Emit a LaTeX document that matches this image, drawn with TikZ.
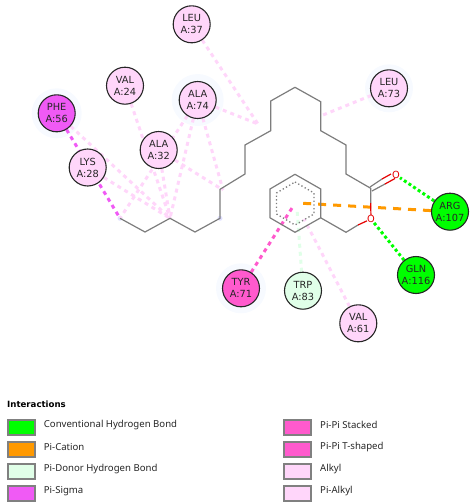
\documentclass[tikz,border=0pt]{standalone}
\usepackage{fontspec}
\setmainfont{DejaVu Sans}
\newfontfamily\legendfont{Noto Sans}
\usetikzlibrary{arrows.meta,backgrounds}
\definecolor{hbond}{RGB}{0,255,0}
\definecolor{picat}{RGB}{255,153,0}
\definecolor{pidonor}{RGB}{224,255,232}
\definecolor{pisig}{RGB}{240,90,245}
\definecolor{pipi}{RGB}{255,90,205}
\definecolor{alkyl}{RGB}{255,214,250}
\definecolor{halo}{RGB}{247,250,255}
\definecolor{bondgray}{RGB}{125,125,125}
\tikzset{
  residue/.style={circle,draw=black!85,line width=1.1pt,minimum size=37pt,inner sep=0pt,align=center,font=\fontsize{9.8}{12}\selectfont,text=black!85},
  bond/.style={draw=bondgray,line width=1.2pt},
  redbond/.style={draw=red!90!black,line width=1.2pt},
  hb/.style={draw=hbond,line width=3pt,dash pattern=on 3pt off 2.6pt},
  cat/.style={draw=picat,line width=3pt,dash pattern=on 8pt off 7pt},
  don/.style={draw=pidonor,line width=3pt,dash pattern=on 4pt off 4pt},
  sig/.style={draw=pisig,line width=3pt,dash pattern=on 4pt off 4pt},
  tsh/.style={draw=pipi,line width=3pt,dash pattern=on 4pt off 4pt},
  alk/.style={draw=alkyl,line width=3pt,dash pattern=on 4pt off 4pt},
  swatch/.style={draw=black!50,line width=1.6pt,minimum width=27pt,minimum height=15pt,inner sep=0pt,anchor=north west},
  legtext/.style={anchor=west,inner sep=0pt,font=\legendfont\fontsize{9.6}{11}\selectfont,text=black!85}
}
\begin{document}
\begin{tikzpicture}[x=1pt,y=-1pt]
\useasboundingbox (0,0) rectangle (475,504);
\coordinate (c1) at (120,218.3);
\coordinate (c2) at (145,232);
\coordinate (c3) at (170,218.3);
\coordinate (c4) at (195,232);
\coordinate (c5) at (220,218.3);
\coordinate (c6) at (220,189.3);
\coordinate (c7) at (245,174);
\coordinate (c8) at (245,145);
\coordinate (c9) at (270.7,130.7);
\coordinate (c10) at (270.7,101);
\coordinate (c11) at (295,87.3);
\coordinate (c12) at (320.7,101.7);
\coordinate (c13) at (320.7,130.7);
\coordinate (c14) at (346,145);
\coordinate (c15) at (346,174);
\coordinate (c16) at (370.7,188.3);
\coordinate (c17) at (346,232.3);
\coordinate (r1) at (295,174.3);
\coordinate (r2) at (320.7,189);
\coordinate (r3) at (320.7,217.8);
\coordinate (r4) at (295,232.3);
\coordinate (r5) at (270,217.8);
\coordinate (r6) at (270,189);
\coordinate (tipcat) at (303,203.3);
\coordinate (tiptyr) at (292,208);
\coordinate (tiptrp) at (297,209);
\coordinate (tipval) at (304,219);
\coordinate (tip9) at (258,124);
\coordinate (tip6) at (223,190);
\coordinate (tip13) at (323,115);
\coordinate (upa) at (370,187);
\coordinate (upb) at (382,179);
\coordinate (upc) at (391,174);
\coordinate (loa) at (372,191);
\coordinate (lob) at (385,184);
\coordinate (loc) at (395,178.5);
\coordinate (o2mid) at (370.7,203);
\coordinate (o2b) at (358,225);
\node[text=red!90!black,inner sep=0pt,font=\fontsize{9.8}{10}\selectfont] (o1) at (396,175) {O};
\node[text=red!90!black,inner sep=0pt,font=\fontsize{9.8}{10}\selectfont] (o2) at (371,219) {O};
\node[residue,fill=alkyl] (leu37) at (191.7,24.3) {LEU\\A:37};
\node[residue,fill=alkyl] (val24) at (125,85.7) {VAL\\A:24};
\node[residue,fill=alkyl] (ala74) at (197.7,100) {ALA\\A:74};
\node[residue,fill=alkyl] (ala32) at (158.7,150) {ALA\\A:32};
\node[residue,fill=alkyl] (lys28) at (87.7,167.5) {LYS\\A:28};
\node[residue,fill=pisig] (phe56) at (56.7,113.3) {PHE\\A:56};
\node[residue,fill=alkyl] (leu73) at (389,88.3) {LEU\\A:73};
\node[residue,fill=hbond] (arg107) at (450,211.7) {ARG\\A:107};
\node[residue,fill=hbond] (gln116) at (416,275) {GLN\\A:116};
\node[residue,fill=pipi] (tyr71) at (241,288.3) {TYR\\A:71};
\node[residue,fill=pidonor] (trp83) at (303,290.7) {TRP\\A:83};
\node[residue,fill=alkyl] (val61) at (358.3,323.3) {VAL\\A:61};
\draw[bond] (c1) -- (c2) -- (c3) -- (c4) -- (c5) -- (c6) -- (c7) -- (c8) -- (c9) -- (c10) -- (c11) -- (c12) -- (c13) -- (c14) -- (c15) -- (c16) -- (o2mid);
\draw[redbond] (o2mid) -- (o2);
\draw[bond] (upa) -- (upb);
\draw[redbond] (upb) -- (upc);
\draw[bond] (loa) -- (lob);
\draw[redbond] (lob) -- (loc);
\draw[redbond] (o2) -- (o2b);
\draw[bond] (o2b) -- (c17) -- (r3);
\draw[bond] (r1) -- (r2) -- (r3) -- (r4) -- (r5) -- (r6) -- cycle;
\draw[bondgray,line width=1.3pt,dash pattern=on 1.3pt off 2.4pt] (295,182) -- (314,193) -- (314,214) -- (295,225) -- (276.5,214) -- (276.5,193) -- cycle;
\begin{scope}[on background layer]
\fill[halo] (197.7,100) circle (26);
\fill[halo] (56.7,113.3) circle (25);
\fill[halo] (241,288.3) circle (25);
\fill[halo] (389,88.3) circle (24);
\fill[blue!12] (c1) circle (2.5);
\fill[blue!12] (c5) circle (2.5);
\draw[alk] (leu37) -- (tip9);
\draw[alk] (ala74) -- (tip9);
\draw[alk] (leu73) -- (tip13);
\draw[alk] (ala74) -- (tip6);
\draw[alk] (ala32) -- (tip6);
\draw[alk] (ala74) -- (c3);
\draw[alk] (ala74) -- (c1);
\draw[alk] (val24) -- (c3);
\draw[alk] (ala32) -- (c3);
\draw[alk] (phe56) -- (c3);
\draw[alk] (lys28) -- (c3);
\draw[alk] (val61) -- (tipval);
\draw[sig] (phe56) -- (c1);
\draw[tsh] (tyr71) -- (tiptyr);
\draw[don] (trp83) -- (tiptrp);
\draw[cat] (arg107) -- (tipcat);
\draw[hb] (arg107) -- (o1);
\draw[hb] (gln116) -- (o2);
\end{scope}
\node[inner sep=0pt,anchor=west,font=\bfseries\fontsize{8.6}{11}\selectfont] (legtitle) at (7,404) {Interactions};
\node[swatch,fill=hbond] (s1) at (7,419) {};
\node[swatch,fill=picat] (s2) at (7,441) {};
\node[swatch,fill=pidonor] (s3) at (7,463) {};
\node[swatch,fill=pisig] (s4) at (7,485) {};
\node[swatch,fill=pipi] (s5) at (283,419) {};
\node[swatch,fill=pipi] (s6) at (283,441) {};
\node[swatch,fill=alkyl] (s7) at (283,463) {};
\node[swatch,fill=alkyl] (s8) at (283,485) {};
\node[legtext] (t1) at (43.7,425) {Conventional Hydrogen Bond};
\node[legtext] (t2) at (43.7,447) {Pi-Cation};
\node[legtext] (t3) at (43.7,469) {Pi-Donor Hydrogen Bond};
\node[legtext] (t4) at (43.7,491) {Pi-Sigma};
\node[legtext] (t5) at (320,425) {Pi-Pi Stacked};
\node[legtext] (t6) at (320,447) {Pi-Pi T-shaped};
\node[legtext] (t7) at (320,469) {Alkyl};
\node[legtext] (t8) at (320,491) {Pi-Alkyl};
\end{tikzpicture}
\end{document}
